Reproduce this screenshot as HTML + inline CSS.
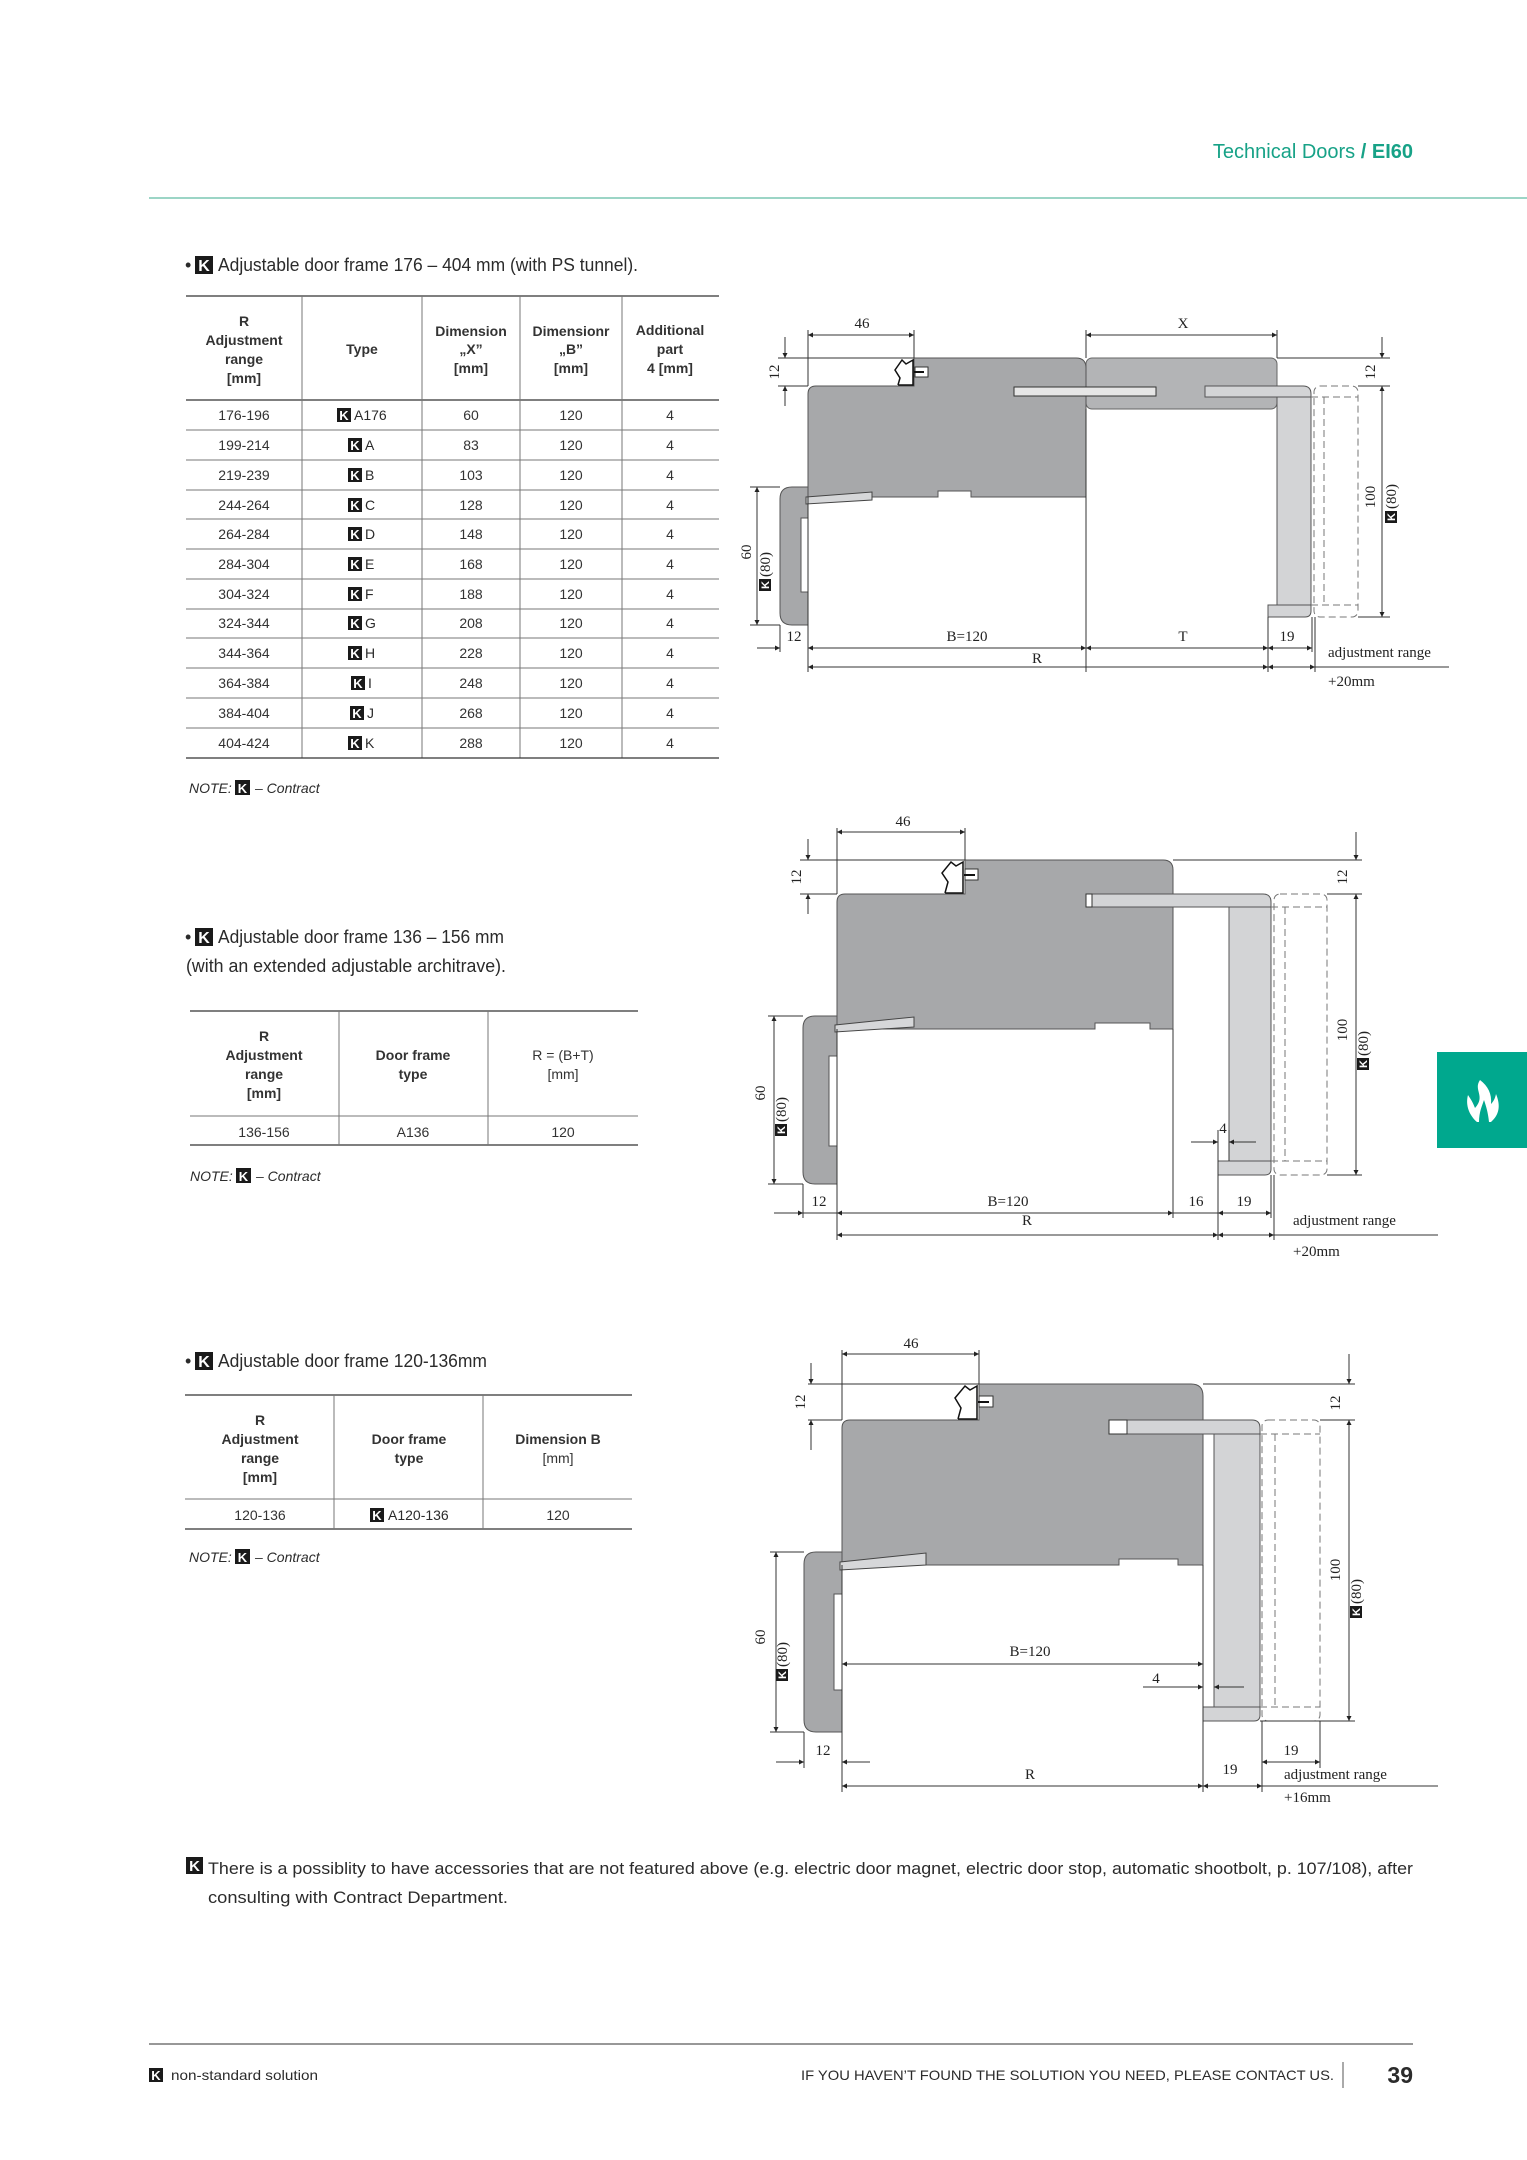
<!DOCTYPE html>
<html><head><meta charset="utf-8"><style>
html,body{margin:0;padding:0;background:#fff;}
svg{display:block;}
.s{font-family:"Liberation Sans",sans-serif;fill:#2b2b2b;}
.t{font-family:"Liberation Sans",sans-serif;font-size:14px;fill:#333;text-anchor:middle;}
.h{font-family:"Liberation Sans",sans-serif;font-size:14px;font-weight:bold;fill:#333;text-anchor:middle;}
.d{font-family:"Liberation Serif",serif;font-size:15px;fill:#222;}
.dm{font-family:"Liberation Serif",serif;font-size:15px;fill:#222;text-anchor:middle;}
.ln{stroke:#333;stroke-width:1;fill:none;}
.dl{stroke:#333;stroke-width:1;fill:none;marker-start:url(#a);marker-end:url(#a);}
.kb{fill:#1a1a1a;}
.kt{font-family:"Liberation Sans",sans-serif;font-weight:bold;fill:#fff;text-anchor:middle;}
.dk{fill:#a7a8aa;stroke:#555;stroke-width:1;}
.lt{fill:#d3d4d6;stroke:#555;stroke-width:1;}
.da{fill:none;stroke:#777;stroke-width:1;stroke-dasharray:7,4;}
.tb{stroke:#333;stroke-width:1.3;}
.tg{stroke:#777;stroke-width:1;}
</style></head><body>
<svg width="1527" height="2160" viewBox="0 0 1527 2160" xmlns="http://www.w3.org/2000/svg">
<defs>
<marker id="a" viewBox="0 0 10 10" refX="10" refY="5" markerWidth="10" markerHeight="5" markerUnits="userSpaceOnUse" orient="auto-start-reverse"><path d="M0,0 L10,5 L0,10 z" fill="#222"/></marker>
</defs>

<text x="1413" y="158" text-anchor="end" style="font-family:'Liberation Sans',sans-serif;font-size:20px;fill:#17a287"><tspan>Technical Doors </tspan><tspan font-weight="bold">/ EI60</tspan></text>
<line x1="149" y1="198" x2="1527" y2="198" stroke="#7cc7b4" stroke-width="1.6"/>

<text x="185" y="271" class="s" font-size="18">•</text>
<rect x="195" y="256" width="18" height="18" class="kb"/><text x="204" y="271" class="kt" font-size="16">K</text>
<text x="218" y="271" class="s" font-size="18" textLength="420" lengthAdjust="spacingAndGlyphs">Adjustable door frame 176 – 404 mm (with PS tunnel).</text>

<line x1="186" y1="296" x2="719" y2="296" class="tb"/>
<line x1="186" y1="400" x2="719" y2="400" class="tb"/>
<g class="tg">
<line x1="186" y1="430" x2="719" y2="430"/><line x1="186" y1="460" x2="719" y2="460"/><line x1="186" y1="490" x2="719" y2="490"/>
<line x1="186" y1="519" x2="719" y2="519"/><line x1="186" y1="549" x2="719" y2="549"/><line x1="186" y1="579" x2="719" y2="579"/>
<line x1="186" y1="609" x2="719" y2="609"/><line x1="186" y1="638" x2="719" y2="638"/><line x1="186" y1="668" x2="719" y2="668"/>
<line x1="186" y1="698" x2="719" y2="698"/><line x1="186" y1="728" x2="719" y2="728"/>
<line x1="302" y1="296" x2="302" y2="758"/><line x1="422" y1="296" x2="422" y2="758"/><line x1="520" y1="296" x2="520" y2="758"/><line x1="622" y1="296" x2="622" y2="758"/>
</g>
<line x1="186" y1="758" x2="719" y2="758" class="tb"/>
<text class="h" x="244" y="326">R</text><text class="h" x="244" y="345">Adjustment</text><text class="h" x="244" y="364">range</text><text class="h" x="244" y="383">[mm]</text>
<text class="h" x="362" y="354">Type</text>
<text class="h" x="471" y="336">Dimension</text><text class="h" x="471" y="354">„X”</text><text class="h" x="471" y="373">[mm]</text>
<text class="h" x="571" y="336">Dimensionr</text><text class="h" x="571" y="354">„B”</text><text class="h" x="571" y="373">[mm]</text>
<text class="h" x="670" y="335">Additional</text><text class="h" x="670" y="354">part</text><text class="h" x="670" y="373">4 [mm]</text>
<g>
<text class="t" x="244" y="420">176-196</text><text class="t" x="471" y="420">60</text><text class="t" x="571" y="420">120</text><text class="t" x="670" y="420">4</text>
<rect x="337" y="408" width="14" height="14" class="kb"/><text x="344" y="420" class="kt" font-size="13">K</text><text class="s" x="354" y="420" font-size="14">A176</text>
<text class="t" x="244" y="450">199-214</text><text class="t" x="471" y="450">83</text><text class="t" x="571" y="450">120</text><text class="t" x="670" y="450">4</text>
<rect x="348" y="438" width="14" height="14" class="kb"/><text x="355" y="450" class="kt" font-size="13">K</text><text class="s" x="365" y="450" font-size="14">A</text>
<text class="t" x="244" y="480">219-239</text><text class="t" x="471" y="480">103</text><text class="t" x="571" y="480">120</text><text class="t" x="670" y="480">4</text>
<rect x="348" y="468" width="14" height="14" class="kb"/><text x="355" y="480" class="kt" font-size="13">K</text><text class="s" x="365" y="480" font-size="14">B</text>
<text class="t" x="244" y="510">244-264</text><text class="t" x="471" y="510">128</text><text class="t" x="571" y="510">120</text><text class="t" x="670" y="510">4</text>
<rect x="348" y="498" width="14" height="14" class="kb"/><text x="355" y="510" class="kt" font-size="13">K</text><text class="s" x="365" y="510" font-size="14">C</text>
<text class="t" x="244" y="539">264-284</text><text class="t" x="471" y="539">148</text><text class="t" x="571" y="539">120</text><text class="t" x="670" y="539">4</text>
<rect x="348" y="527" width="14" height="14" class="kb"/><text x="355" y="539" class="kt" font-size="13">K</text><text class="s" x="365" y="539" font-size="14">D</text>
<text class="t" x="244" y="569">284-304</text><text class="t" x="471" y="569">168</text><text class="t" x="571" y="569">120</text><text class="t" x="670" y="569">4</text>
<rect x="348" y="557" width="14" height="14" class="kb"/><text x="355" y="569" class="kt" font-size="13">K</text><text class="s" x="365" y="569" font-size="14">E</text>
<text class="t" x="244" y="599">304-324</text><text class="t" x="471" y="599">188</text><text class="t" x="571" y="599">120</text><text class="t" x="670" y="599">4</text>
<rect x="348" y="587" width="14" height="14" class="kb"/><text x="355" y="599" class="kt" font-size="13">K</text><text class="s" x="365" y="599" font-size="14">F</text>
<text class="t" x="244" y="628">324-344</text><text class="t" x="471" y="628">208</text><text class="t" x="571" y="628">120</text><text class="t" x="670" y="628">4</text>
<rect x="348" y="616" width="14" height="14" class="kb"/><text x="355" y="628" class="kt" font-size="13">K</text><text class="s" x="365" y="628" font-size="14">G</text>
<text class="t" x="244" y="658">344-364</text><text class="t" x="471" y="658">228</text><text class="t" x="571" y="658">120</text><text class="t" x="670" y="658">4</text>
<rect x="348" y="646" width="14" height="14" class="kb"/><text x="355" y="658" class="kt" font-size="13">K</text><text class="s" x="365" y="658" font-size="14">H</text>
<text class="t" x="244" y="688">364-384</text><text class="t" x="471" y="688">248</text><text class="t" x="571" y="688">120</text><text class="t" x="670" y="688">4</text>
<rect x="351" y="676" width="14" height="14" class="kb"/><text x="358" y="688" class="kt" font-size="13">K</text><text class="s" x="368" y="688" font-size="14">I</text>
<text class="t" x="244" y="718">384-404</text><text class="t" x="471" y="718">268</text><text class="t" x="571" y="718">120</text><text class="t" x="670" y="718">4</text>
<rect x="350" y="706" width="14" height="14" class="kb"/><text x="357" y="718" class="kt" font-size="13">K</text><text class="s" x="367" y="718" font-size="14">J</text>
<text class="t" x="244" y="748">404-424</text><text class="t" x="471" y="748">288</text><text class="t" x="571" y="748">120</text><text class="t" x="670" y="748">4</text>
<rect x="348" y="736" width="14" height="14" class="kb"/><text x="355" y="748" class="kt" font-size="13">K</text><text class="s" x="365" y="748" font-size="14">K</text>
</g>
<text x="189" y="793" class="s" font-size="14" font-style="italic">NOTE:</text>
<rect x="235" y="780" width="15" height="15" class="kb"/><text x="242.5" y="793" class="kt" font-size="13">K</text>
<text x="255" y="793" class="s" font-size="14" font-style="italic">– Contract</text>

<text x="185" y="943" class="s" font-size="18">•</text>
<rect x="195" y="928" width="18" height="18" class="kb"/><text x="204" y="943" class="kt" font-size="16">K</text>
<text x="218" y="943" class="s" font-size="18" textLength="286" lengthAdjust="spacingAndGlyphs">Adjustable door frame 136 – 156 mm</text>
<text x="186" y="972" class="s" font-size="18" textLength="320" lengthAdjust="spacingAndGlyphs">(with an extended adjustable architrave).</text>
<line x1="190" y1="1011" x2="638" y2="1011" class="tb"/>
<line x1="190" y1="1116" x2="638" y2="1116" class="tg"/>
<line x1="190" y1="1145" x2="638" y2="1145" class="tb"/>
<line x1="339" y1="1011" x2="339" y2="1145" class="tg"/><line x1="488" y1="1011" x2="488" y2="1145" class="tg"/>
<text class="h" x="264" y="1041">R</text><text class="h" x="264" y="1060">Adjustment</text><text class="h" x="264" y="1079">range</text><text class="h" x="264" y="1098">[mm]</text>
<text class="h" x="413" y="1060">Door frame</text><text class="h" x="413" y="1079">type</text>
<text class="t" x="563" y="1060">R = (B+T)</text><text class="t" x="563" y="1079">[mm]</text>
<text class="t" x="264" y="1137">136-156</text><text class="t" x="413" y="1137">A136</text><text class="t" x="563" y="1137">120</text>
<text x="190" y="1181" class="s" font-size="14" font-style="italic">NOTE:</text>
<rect x="236" y="1168" width="15" height="15" class="kb"/><text x="243.5" y="1181" class="kt" font-size="13">K</text>
<text x="256" y="1181" class="s" font-size="14" font-style="italic">– Contract</text>

<text x="185" y="1367" class="s" font-size="18">•</text>
<rect x="195" y="1352" width="18" height="18" class="kb"/><text x="204" y="1367" class="kt" font-size="16">K</text>
<text x="218" y="1367" class="s" font-size="18" textLength="269" lengthAdjust="spacingAndGlyphs">Adjustable door frame 120-136mm</text>
<line x1="185" y1="1395" x2="632" y2="1395" class="tb"/>
<line x1="185" y1="1499" x2="632" y2="1499" class="tg"/>
<line x1="185" y1="1529" x2="632" y2="1529" class="tb"/>
<line x1="334" y1="1395" x2="334" y2="1529" class="tg"/><line x1="483" y1="1395" x2="483" y2="1529" class="tg"/>
<text class="h" x="260" y="1425">R</text><text class="h" x="260" y="1444">Adjustment</text><text class="h" x="260" y="1463">range</text><text class="h" x="260" y="1482">[mm]</text>
<text class="h" x="409" y="1444">Door frame</text><text class="h" x="409" y="1463">type</text>
<text class="h" x="558" y="1444">Dimension B</text><text class="t" x="558" y="1463">[mm]</text>
<text class="t" x="260" y="1520">120-136</text><text class="t" x="558" y="1520">120</text>
<rect x="370" y="1508" width="14" height="14" class="kb"/><text x="377" y="1520" class="kt" font-size="13">K</text><text class="s" x="388" y="1520" font-size="14">A120-136</text>
<text x="189" y="1562" class="s" font-size="14" font-style="italic">NOTE:</text>
<rect x="235" y="1549" width="15" height="15" class="kb"/><text x="242.5" y="1562" class="kt" font-size="13">K</text>
<text x="255" y="1562" class="s" font-size="14" font-style="italic">– Contract</text>

<g>
<rect x="1086" y="358" width="191" height="51" rx="6" fill="#b3b4b6" stroke="#666"/>
<path class="dk" d="M808,394 Q808,386 816,386 L914,386 L914,358 L1076,358 Q1086,358 1086,368 L1086,497 L971,497 L971,491 L938,491 L938,497 L808,497 Z"/>
<rect x="1014" y="387" width="142" height="9" fill="#e6e6e6" stroke="#333"/>
<path class="lt" d="M1205,386 L1303,386 Q1311,386 1311,394 L1311,397 L1205,397 Z"/>
<rect x="1277" y="397" width="34" height="208" class="lt"/>
<path class="lt" d="M1268,605 L1311,605 L1311,611 Q1311,617 1305,617 L1268,617 Z" fill="#c8c9cb"/>
<rect x="1314" y="386" width="44" height="231" rx="6" class="da"/>
<line x1="1324" y1="397" x2="1324" y2="605" class="da"/>
<line x1="1311" y1="397" x2="1358" y2="397" class="da"/>
<line x1="1311" y1="605" x2="1358" y2="605" class="da"/>
<path class="dk" d="M808,487 L792,487 Q780,487 780,499 L780,613 Q780,625 792,625 L808,625 L808,592 L801,592 L801,518 L808,518 Z"/>
<polygon points="806,497 872,492 872,500 806,504" fill="#d6d7d9" stroke="#444"/>
<path d="M898,385 L913,385 L913,360 L906,364 L902,360 L895,370 L900,378 L898,385" fill="#fff" stroke="#111" stroke-width="1.5"/>
<rect x="915" y="367" width="13" height="10" fill="#fff" stroke="#333"/>
<line x1="914" y1="372" x2="924" y2="372" stroke="#111" stroke-width="2"/>
<line x1="808" y1="330" x2="808" y2="386" class="ln"/><line x1="914" y1="330" x2="914" y2="358" class="ln"/>
<line x1="808" y1="335" x2="914" y2="335" class="dl"/><text class="dm" x="862" y="328">46</text>
<line x1="1086" y1="330" x2="1086" y2="358" class="ln"/><line x1="1277" y1="330" x2="1277" y2="358" class="ln"/>
<line x1="1086" y1="335" x2="1277" y2="335" class="dl"/><text class="dm" x="1183" y="328">X</text>
<line x1="778" y1="358" x2="914" y2="358" class="ln"/><line x1="778" y1="386" x2="808" y2="386" class="ln"/>
<line x1="785" y1="337" x2="785" y2="358" class="ln" marker-end="url(#a)"/><line x1="785" y1="406" x2="785" y2="386" class="ln" marker-end="url(#a)"/>
<text class="dm" transform="translate(779,372) rotate(-90)">12</text>
<line x1="1277" y1="358" x2="1390" y2="358" class="ln"/><line x1="1358" y1="386" x2="1390" y2="386" class="ln"/><line x1="1358" y1="617" x2="1390" y2="617" class="ln"/>
<line x1="1382" y1="337" x2="1382" y2="358" class="ln" marker-end="url(#a)"/>
<line x1="1382" y1="386" x2="1382" y2="617" class="dl"/>
<text class="dm" transform="translate(1375,372) rotate(-90)">12</text>
<text class="dm" transform="translate(1375,497) rotate(-90)">100</text>
<g transform="translate(1396,497) rotate(-90)"><rect x="-26" y="-11" width="12" height="12" class="kb"/><text x="-20" y="-1" class="kt" font-size="11">K</text><text class="d" x="-12" y="0">(80)</text></g>
<line x1="750" y1="487" x2="780" y2="487" class="ln"/><line x1="750" y1="625" x2="780" y2="625" class="ln"/>
<line x1="757" y1="487" x2="757" y2="625" class="dl"/>
<text class="dm" transform="translate(751,552) rotate(-90)">60</text>
<g transform="translate(770,565) rotate(-90)"><rect x="-26" y="-11" width="12" height="12" class="kb"/><text x="-20" y="-1" class="kt" font-size="11">K</text><text class="d" x="-12" y="0">(80)</text></g>
<line x1="780" y1="625" x2="780" y2="652" class="ln"/><line x1="808" y1="497" x2="808" y2="672" class="ln"/>
<line x1="1086" y1="409" x2="1086" y2="672" class="ln"/><line x1="1268" y1="617" x2="1268" y2="672" class="ln"/>
<line x1="1312" y1="617" x2="1312" y2="652" class="ln"/><line x1="1315" y1="617" x2="1315" y2="672" class="ln"/>
<line x1="757" y1="648" x2="780" y2="648" class="ln" marker-end="url(#a)"/>
<line x1="808" y1="648" x2="1086" y2="648" class="dl"/><line x1="1086" y1="648" x2="1268" y2="648" class="dl"/><line x1="1268" y1="648" x2="1312" y2="648" class="dl"/>
<line x1="808" y1="667" x2="1268" y2="667" class="dl"/><line x1="1268" y1="667" x2="1315" y2="667" class="dl"/><line x1="1315" y1="667" x2="1449" y2="667" class="ln"/>
<text class="dm" x="794" y="641">12</text><text class="dm" x="967" y="641">B=120</text><text class="dm" x="1183" y="641">T</text><text class="dm" x="1287" y="641">19</text>
<text class="dm" x="1037" y="663">R</text>
<text class="d" x="1328" y="657" font-size="14">adjustment range</text>
<text class="d" x="1328" y="686" font-size="14">+20mm</text>
</g>

<g>
<path class="dk" d="M837,902 Q837,894 845,894 L965,894 L965,860 L1163,860 Q1173,860 1173,870 L1173,1029 L1150,1029 L1150,1023 L1095,1023 L1095,1029 L837,1029 Z"/>
<path class="lt" d="M1086,894 L1263,894 Q1271,894 1271,902 L1271,907 L1086,907 Z"/>
<rect x="1086" y="894" width="6" height="13" fill="#fff" stroke="#333"/>
<rect x="1229" y="907" width="42" height="254" class="lt"/>
<path class="lt" d="M1218,1161 L1271,1161 L1271,1169 Q1271,1175 1265,1175 L1218,1175 Z" fill="#c8c9cb"/>
<rect x="1274" y="894" width="53" height="281" rx="6" class="da"/>
<line x1="1285" y1="907" x2="1285" y2="1161" class="da"/>
<line x1="1271" y1="907" x2="1327" y2="907" class="da"/>
<line x1="1271" y1="1161" x2="1327" y2="1161" class="da"/>
<path class="dk" d="M837,1016 L815,1016 Q803,1016 803,1028 L803,1172 Q803,1184 815,1184 L837,1184 L837,1146 L829,1146 L829,1056 L837,1056 Z"/>
<polygon points="835,1025 914,1017 914,1027 835,1032" fill="#d6d7d9" stroke="#444"/>
<path d="M945,893 L963,893 L963,862 L956,866 L951,862 L942,873 L948,882 L945,893" fill="#fff" stroke="#111" stroke-width="1.5"/>
<rect x="965" y="869" width="13" height="11" fill="#fff" stroke="#333"/>
<line x1="964" y1="875" x2="975" y2="875" stroke="#111" stroke-width="2"/>
<line x1="837" y1="828" x2="837" y2="894" class="ln"/><line x1="965" y1="828" x2="965" y2="860" class="ln"/>
<line x1="837" y1="832" x2="965" y2="832" class="dl"/><text class="dm" x="903" y="826">46</text>
<line x1="800" y1="860" x2="965" y2="860" class="ln"/><line x1="800" y1="894" x2="837" y2="894" class="ln"/>
<line x1="808" y1="839" x2="808" y2="860" class="ln" marker-end="url(#a)"/><line x1="808" y1="914" x2="808" y2="894" class="ln" marker-end="url(#a)"/>
<text class="dm" transform="translate(801,877) rotate(-90)">12</text>
<line x1="1173" y1="860" x2="1362" y2="860" class="ln"/><line x1="1327" y1="894" x2="1362" y2="894" class="ln"/><line x1="1327" y1="1175" x2="1362" y2="1175" class="ln"/>
<line x1="1356" y1="832" x2="1356" y2="860" class="ln" marker-end="url(#a)"/>
<line x1="1356" y1="894" x2="1356" y2="1175" class="dl"/>
<text class="dm" transform="translate(1347,877) rotate(-90)">12</text>
<text class="dm" transform="translate(1347,1030) rotate(-90)">100</text>
<g transform="translate(1368,1044) rotate(-90)"><rect x="-26" y="-11" width="12" height="12" class="kb"/><text x="-20" y="-1" class="kt" font-size="11">K</text><text class="d" x="-12" y="0">(80)</text></g>
<line x1="768" y1="1016" x2="803" y2="1016" class="ln"/><line x1="768" y1="1184" x2="803" y2="1184" class="ln"/>
<line x1="774" y1="1016" x2="774" y2="1184" class="dl"/>
<text class="dm" transform="translate(765,1093) rotate(-90)">60</text>
<g transform="translate(786,1110) rotate(-90)"><rect x="-26" y="-11" width="12" height="12" class="kb"/><text x="-20" y="-1" class="kt" font-size="11">K</text><text class="d" x="-12" y="0">(80)</text></g>
<line x1="803" y1="1184" x2="803" y2="1218" class="ln"/><line x1="837" y1="1029" x2="837" y2="1240" class="ln"/>
<line x1="1173" y1="1029" x2="1173" y2="1218" class="ln"/><line x1="1218" y1="1130" x2="1218" y2="1240" class="ln"/>
<line x1="1229" y1="1130" x2="1229" y2="1161" class="ln"/>
<line x1="1271" y1="1175" x2="1271" y2="1218" class="ln"/><line x1="1274" y1="1175" x2="1274" y2="1240" class="ln"/>
<line x1="774" y1="1213" x2="803" y2="1213" class="ln" marker-end="url(#a)"/>
<line x1="803" y1="1213" x2="1271" y2="1213" class="ln"/>
<line x1="837" y1="1213" x2="1173" y2="1213" class="dl"/><line x1="1218" y1="1213" x2="1271" y2="1213" class="dl"/>
<line x1="837" y1="1235" x2="1218" y2="1235" class="dl"/><line x1="1218" y1="1235" x2="1274" y2="1235" class="dl"/><line x1="1274" y1="1235" x2="1438" y2="1235" class="ln"/>
<line x1="1191" y1="1142" x2="1218" y2="1142" class="ln" marker-end="url(#a)"/><line x1="1256" y1="1142" x2="1229" y2="1142" class="ln" marker-end="url(#a)"/>
<text class="dm" x="1223" y="1133">4</text>
<text class="dm" x="819" y="1206">12</text><text class="dm" x="1008" y="1206">B=120</text><text class="dm" x="1196" y="1206">16</text><text class="dm" x="1244" y="1206">19</text>
<text class="dm" x="1027" y="1225" font-size="8">R</text>
<text class="d" x="1293" y="1225" font-size="14">adjustment range</text>
<text class="d" x="1293" y="1256" font-size="14">+20mm</text>
</g>

<g>
<path class="dk" d="M842,1428 Q842,1420 850,1420 L979,1420 L979,1384 L1191,1384 Q1203,1384 1203,1396 L1203,1565 L1178,1565 L1178,1559 L1119,1559 L1119,1565 L842,1565 Z"/>
<path class="lt" d="M1109,1420 L1252,1420 Q1260,1420 1260,1428 L1260,1434 L1109,1434 Z"/>
<rect x="1109" y="1420" width="18" height="14" fill="#fff" stroke="#333"/>
<rect x="1214" y="1434" width="46" height="273" class="lt"/>
<path class="lt" d="M1203,1707 L1260,1707 L1260,1715 Q1260,1721 1254,1721 L1203,1721 Z" fill="#c8c9cb"/>
<rect x="1262" y="1420" width="58" height="301" rx="6" class="da"/>
<line x1="1275" y1="1434" x2="1275" y2="1707" class="da"/>
<line x1="1260" y1="1434" x2="1320" y2="1434" class="da"/>
<line x1="1260" y1="1707" x2="1320" y2="1707" class="da"/>
<path class="dk" d="M842,1552 L816,1552 Q804,1552 804,1564 L804,1720 Q804,1732 816,1732 L842,1732 L842,1690 L834,1690 L834,1594 L842,1594 Z"/>
<polygon points="840,1562 926,1553 926,1565 840,1570" fill="#d6d7d9" stroke="#444"/>
<path d="M958,1419 L977,1419 L977,1386 L970,1390 L965,1386 L955,1398 L961,1408 L958,1419" fill="#fff" stroke="#111" stroke-width="1.5"/>
<rect x="979" y="1396" width="14" height="11" fill="#fff" stroke="#333"/>
<line x1="978" y1="1402" x2="989" y2="1402" stroke="#111" stroke-width="2"/>
<line x1="842" y1="1350" x2="842" y2="1420" class="ln"/><line x1="979" y1="1350" x2="979" y2="1384" class="ln"/>
<line x1="842" y1="1354" x2="979" y2="1354" class="dl"/><text class="dm" x="911" y="1348">46</text>
<line x1="808" y1="1384" x2="979" y2="1384" class="ln"/><line x1="808" y1="1420" x2="842" y2="1420" class="ln"/>
<line x1="811" y1="1363" x2="811" y2="1384" class="ln" marker-end="url(#a)"/><line x1="811" y1="1450" x2="811" y2="1420" class="ln" marker-end="url(#a)"/>
<text class="dm" transform="translate(805,1402) rotate(-90)">12</text>
<line x1="1203" y1="1384" x2="1355" y2="1384" class="ln"/><line x1="1320" y1="1420" x2="1355" y2="1420" class="ln"/><line x1="1260" y1="1721" x2="1355" y2="1721" class="ln"/>
<line x1="1349" y1="1354" x2="1349" y2="1384" class="ln" marker-end="url(#a)"/>
<line x1="1349" y1="1420" x2="1349" y2="1721" class="dl"/>
<text class="dm" transform="translate(1340,1403) rotate(-90)">12</text>
<text class="dm" transform="translate(1340,1570) rotate(-90)">100</text>
<g transform="translate(1361,1592) rotate(-90)"><rect x="-26" y="-11" width="12" height="12" class="kb"/><text x="-20" y="-1" class="kt" font-size="11">K</text><text class="d" x="-12" y="0">(80)</text></g>
<line x1="770" y1="1552" x2="804" y2="1552" class="ln"/><line x1="770" y1="1732" x2="804" y2="1732" class="ln"/>
<line x1="776" y1="1552" x2="776" y2="1732" class="dl"/>
<text class="dm" transform="translate(765,1637) rotate(-90)">60</text>
<g transform="translate(787,1655) rotate(-90)"><rect x="-26" y="-11" width="12" height="12" class="kb"/><text x="-20" y="-1" class="kt" font-size="11">K</text><text class="d" x="-12" y="0">(80)</text></g>
<line x1="842" y1="1664" x2="1203" y2="1664" class="dl"/><text class="dm" x="1030" y="1656">B=120</text>
<line x1="1143" y1="1687" x2="1203" y2="1687" class="ln" marker-end="url(#a)"/><line x1="1244" y1="1687" x2="1214" y2="1687" class="ln" marker-end="url(#a)"/>
<text class="dm" x="1156" y="1683">4</text>
<line x1="804" y1="1732" x2="804" y2="1768" class="ln"/><line x1="842" y1="1565" x2="842" y2="1792" class="ln"/>
<line x1="1203" y1="1565" x2="1203" y2="1792" class="ln"/><line x1="1262" y1="1721" x2="1262" y2="1792" class="ln"/>
<line x1="1320" y1="1721" x2="1320" y2="1768" class="ln"/>
<line x1="776" y1="1762" x2="804" y2="1762" class="ln" marker-end="url(#a)"/><line x1="870" y1="1762" x2="842" y2="1762" class="ln" marker-end="url(#a)"/>
<line x1="1262" y1="1762" x2="1320" y2="1762" class="dl"/>
<text class="dm" x="823" y="1755">12</text><text class="dm" x="1291" y="1755">19</text>
<line x1="842" y1="1786" x2="1203" y2="1786" class="dl"/><line x1="1203" y1="1786" x2="1262" y2="1786" class="dl"/><line x1="1262" y1="1786" x2="1438" y2="1786" class="ln"/>
<text class="dm" x="1030" y="1779">R</text><text class="dm" x="1230" y="1774">19</text>
<text class="d" x="1284" y="1779" font-size="14">adjustment range</text>
<text class="d" x="1284" y="1802" font-size="14">+16mm</text>
</g>

<rect x="1437" y="1052" width="90" height="96" fill="#00a88e"/>
<path d="M1480,1080 C1473,1090 1486,1096 1475,1108 C1472,1100 1469,1097 1468,1095 C1465,1106 1470,1116 1477,1122 L1479,1122 C1479,1112 1482,1106 1484,1100 C1486,1106 1488,1112 1489,1122 L1491,1122 C1499,1115 1501,1106 1496,1094 C1495,1099 1493,1102 1491,1104 C1492,1094 1488,1086 1480,1080 Z" fill="#fff"/>

<rect x="186" y="1857" width="17" height="17" class="kb"/><text x="194.5" y="1871" class="kt" font-size="15">K</text>
<text x="208" y="1874" class="s" font-size="17" textLength="1205" lengthAdjust="spacingAndGlyphs">There is a possiblity to have accessories that are not featured above (e.g. electric door magnet, electric door stop, automatic shootbolt, p. 107/108), after</text>
<text x="208" y="1903" class="s" font-size="17" textLength="300" lengthAdjust="spacingAndGlyphs">consulting with Contract Department.</text>

<line x1="149" y1="2044" x2="1413" y2="2044" stroke="#777" stroke-width="1.4"/>
<rect x="149" y="2068" width="14" height="14" class="kb"/><text x="156" y="2080" class="kt" font-size="13">K</text>
<text x="171" y="2080" class="s" font-size="14" textLength="147" lengthAdjust="spacingAndGlyphs">non-standard solution</text>
<text x="801" y="2080" class="s" font-size="14" textLength="533" lengthAdjust="spacingAndGlyphs">IF YOU HAVEN’T FOUND THE SOLUTION YOU NEED, PLEASE CONTACT US.</text>
<line x1="1343" y1="2062" x2="1343" y2="2088" stroke="#555" stroke-width="1"/>
<text x="1413" y="2083" text-anchor="end" class="s" font-size="23" font-weight="bold">39</text>
</svg>
</body></html>
